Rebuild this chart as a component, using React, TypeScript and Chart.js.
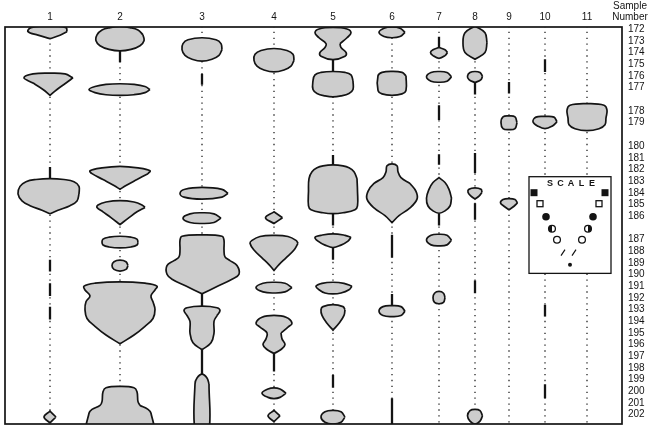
import React, { useEffect, useRef } from "react";
import { Chart, registerables } from "chart.js";

Chart.register(...registerables);

// ---------- data ----------
const sampleNumbers = [172, 173, 174, 175, 176, 177, 178, 179, 180, 181, 182, 183, 184, 185, 186, 187, 188, 189, 190, 191, 192, 193, 194, 195, 196, 197, 198, 199, 200, 201, 202];
const gapsAfter = [177, 179, 186];
const types = ["1", "2", "3", "4", "5", "6", "7", "8", "9", "10", "11"];
const typeCenters = [45, 115, 197, 269, 328, 387, 434, 470, 504, 540, 582];

// each shape: p = [row, halfWidth(right), halfWidth(left)?]; pt/pb = pointed top/bottom
type Blob = { p: number[][]; pt?: boolean; pb?: boolean };

const type1Shapes: Blob[] = [
  { p: [[-0.3, 0], [-0.15, 16, 19], [0.2, 17, 22], [0.5, 10, 12], [0.8, 0]], pb: true },
  { p: [[3.75, 0], [3.82, 15, 17], [4.15, 23, 26], [4.6, 16, 17], [5.15, 7], [5.65, 0]], pb: true },
  { p: [[12.78, 0], [12.86, 14], [13.05, 24], [13.45, 29, 30], [14.1, 29, 32], [14.7, 27, 28], [15.1, 20], [15.5, 8], [15.8, 0]], pb: true },
  { p: [[32.7, 0], [33.2, 6], [33.7, 0]], pt: true, pb: true },
];
const type1Bars = [[11.78, 12.78], [19.73, 20.74], [21.74, 22.83], [23.75, 24.84]];

const type2Shapes: Blob[] = [
  { p: [[-0.25, 0], [-0.15, 10], [0.05, 18], [0.47, 23], [0.97, 24], [1.4, 20], [1.72, 11], [1.85, 0]] },
  { p: [[4.66, 0], [4.72, 14], [4.9, 25], [5.16, 30, 31], [5.42, 25], [5.6, 14], [5.66, 0]] },
  { p: [[11.73, 0], [11.86, 18], [12.11, 30], [12.36, 28], [12.86, 17], [13.37, 6], [13.7, 0]], pb: true },
  { p: [[14.67, 0], [14.79, 14], [15.04, 22], [15.25, 25, 23], [15.63, 17], [16.13, 9], [16.72, 0]], pb: true },
  { p: [[17.72, 0], [17.8, 11], [17.97, 17], [18.22, 18], [18.47, 17], [18.64, 11], [18.72, 0]] },
  { p: [[19.77, 0], [19.9, 6], [20.23, 8], [20.56, 6], [20.7, 0]] },
  { p: [[21.62, 0], [21.74, 25], [21.99, 37, 36], [22.32, 35], [22.83, 31, 30], [23.33, 33, 34], [24.0, 35], [24.76, 33], [25.43, 25], [26.18, 14], [26.93, 0]], pb: true },
  { p: [[30.58, 0], [30.7, 14], [31.04, 17], [31.88, 18], [32.21, 20], [32.55, 28], [32.88, 31], [34.4, 32], [34.5, 0]] },
];
const type2Bars = [[1.85, 2.81]];

const type3Shapes: Blob[] = [
  { p: [[0.72, 0], [0.89, 14], [1.22, 19], [1.73, 20], [2.23, 17], [2.56, 10], [2.73, 0]] },
  { p: [[13.54, 0], [13.7, 20, 17], [14.04, 26, 22], [14.37, 20, 18], [14.54, 0]] },
  { p: [[15.71, 0], [15.8, 12], [16.17, 19], [16.54, 12], [16.63, 0]] },
  { p: [[17.6, 0], [17.72, 20], [18.06, 22], [18.9, 22], [19.48, 23], [19.81, 28], [20.23, 35], [20.98, 37, 35], [21.4, 30], [21.99, 16], [22.65, 0]], pb: true },
  { p: [[23.71, 0], [23.84, 15], [24.09, 18], [24.51, 15], [25.01, 12], [26.01, 12], [26.85, 9], [27.44, 0]], pb: true },
  { p: [[29.53, 0], [29.86, 5], [30.37, 7], [34.4, 7], [34.5, 0]] },
];
const type3Bars = [[3.82, 4.74], [22.65, 23.71], [27.44, 29.53]];

const type4Shapes: Blob[] = [
  { p: [[1.64, 0], [1.81, 13], [2.14, 19], [2.65, 20], [3.15, 17], [3.48, 10], [3.65, 0]] },
  { p: [[15.63, 0], [16.13, 8.5], [16.63, 0]], pt: true, pb: true },
  { p: [[17.65, 0], [17.74, 14], [18.07, 22], [18.32, 24], [18.9, 20], [19.57, 12], [20.15, 5], [20.65, 0]], pb: true },
  { p: [[21.66, 0], [21.75, 11], [22.12, 18], [22.49, 11], [22.58, 0]] },
  { p: [[24.5, 0], [24.66, 12], [25.17, 18], [25.5, 14], [26.0, 7], [26.51, 8], [27.0, 11], [27.42, 7], [27.76, 0]], pb: true },
  { p: [[30.7, 0], [30.8, 6], [31.16, 12], [31.52, 6], [31.62, 0]] },
  { p: [[32.63, 0], [33.1, 6], [33.6, 0]], pt: true, pb: true },
];
const type4Bars = [[27.76, 29.3]];

const type5Shapes: Blob[] = [
  { p: [[-0.16, 0], [-0.03, 14], [0.3, 18], [0.72, 14], [1.22, 7], [1.56, 8], [1.98, 13], [2.31, 12], [2.6, 0]] },
  { p: [[3.61, 0], [3.69, 12], [3.9, 18], [4.41, 20], [5.16, 20], [5.49, 16], [5.7, 8], [5.79, 0]] },
  { p: [[11.61, 0], [11.69, 10], [11.86, 16], [12.19, 21], [12.78, 24], [13.87, 24.5], [15.12, 24.5], [15.45, 22], [15.71, 10], [15.79, 0]] },
  { p: [[17.51, 0], [17.64, 12], [17.81, 18], [18.14, 15], [18.48, 8], [18.69, 0]] },
  { p: [[21.66, 0], [21.75, 11], [22.0, 19, 17], [22.3, 16, 14], [22.58, 8], [22.66, 0]] },
  { p: [[23.58, 0], [23.75, 10], [24.0, 12], [24.5, 11], [25.18, 6], [25.76, 0]], pb: true },
  { p: [[32.63, 0], [32.75, 8], [33.2, 12], [33.65, 8], [33.8, 0]] },
];
const type5Bars = [[2.6, 3.61], [10.77, 11.61], [15.79, 16.8], [18.69, 19.73], [29.6, 30.7]];

const type6Shapes: Blob[] = [
  { p: [[-0.2, 0], [-0.1, 8], [0.26, 13], [0.62, 8], [0.72, 0]] },
  { p: [[3.6, 0], [3.69, 10], [3.98, 14], [5.23, 14], [5.53, 10], [5.65, 0]] },
  { p: [[11.52, 0], [11.69, 5], [12.19, 6], [12.7, 9], [13.2, 18], [13.87, 24], [14.54, 25], [15.29, 18], [15.96, 7], [16.55, 0]], pb: true },
  { p: [[23.67, 0], [23.75, 9], [24.13, 13], [24.51, 9], [24.6, 0]] },
];
const type6Bars = [[17.6, 19.56], [22.66, 23.67], [31.6, 34]];

const type7Shapes: Blob[] = [
  { p: [[1.56, 0], [1.75, 6], [1.98, 8.5], [2.25, 6], [2.48, 0]], pt: true },
  { p: [[3.61, 0], [3.7, 8], [4.07, 12.5], [4.44, 8], [4.53, 0]] },
  { p: [[12.7, 0], [13.12, 6], [13.7, 10], [14.46, 12.5], [15.13, 11], [15.55, 6], [15.75, 0]], pt: true },
  { p: [[17.55, 0], [17.64, 8], [18.05, 12.5], [18.46, 8], [18.55, 0]] },
  { p: [[22.45, 0], [22.6, 4.5], [22.99, 6], [23.38, 4.5], [23.5, 0]] },
];
const type7Bars = [[0.64, 1.56], [6.5, 7.76], [10.7, 11.6], [15.75, 16.8]];

const type8Shapes: Blob[] = [
  { p: [[-0.28, 0], [0.3, 10], [1.14, 12], [1.98, 10], [2.56, 0]], pt: true, pb: true },
  { p: [[3.61, 0], [3.7, 5], [4.0, 7.5], [4.3, 6], [4.57, 0]], pb: true },
  { p: [[13.58, 0], [13.7, 6], [13.95, 7], [14.29, 4], [14.54, 0]], pb: true },
  { p: [[32.55, 0], [32.65, 5], [33.1, 7.5], [33.55, 5], [33.8, 0]] },
];
const type8Bars = [[4.57, 5.58], [10.6, 12.3], [14.9, 16.3], [21.5, 22.6]];

const type9Shapes: Blob[] = [
  { p: [[7.42, 0], [7.5, 6], [8.0, 8], [8.5, 6], [8.59, 0]] },
  { p: [[14.5, 0], [14.58, 6], [14.87, 8.5], [15.15, 5], [15.45, 0]], pb: true },
];
const type9Bars = [[4.5, 5.5]];

const type10Shapes: Blob[] = [
  { p: [[7.46, 0], [7.52, 9], [7.92, 12], [8.3, 7], [8.51, 0]] },
];
const type10Bars = [[2.56, 3.65], [23.58, 24.6], [30.4, 31.6]];

const type11Shapes: Blob[] = [
  { p: [[6.37, 0], [6.5, 17], [6.92, 20], [7.59, 19], [8.17, 18], [8.51, 12], [8.68, 0]] },
];
const type11Bars: number[][] = [];

const shapesByType = [type1Shapes, type2Shapes, type3Shapes, type4Shapes, type5Shapes, type6Shapes, type7Shapes, type8Shapes, type9Shapes, type10Shapes, type11Shapes];
const barsByType = [type1Bars, type2Bars, type3Bars, type4Bars, type5Bars, type6Bars, type7Bars, type8Bars, type9Bars, type10Bars, type11Bars];

// scale key box: [xLeft, rowTop, xRight, rowBottom]
const keyBox = [524, 12.62, 606, 20.9];

const sampleRows = sampleNumbers.map((s, i) => i + gapsAfter.filter((g) => g < s).length);

// ---------- helpers ----------
function outline(cx: number, b: Blob) {
  const p = b.p;
  const n = p.length;
  const R = (k: number) => ({ x: cx + p[k][1], y: p[k][0] });
  const L = (k: number) => ({ x: cx - (p[k][2] ?? p[k][1]), y: p[k][0] });
  const m = Math.max(1, Math.floor((n - 1) / 2));
  const pts: { x: number; y: number }[] = [];
  for (let k = m; k < n - 1; k++) pts.push(R(k));
  const bot = { x: cx, y: p[n - 1][0] };
  pts.push(bot);
  if (b.pb) pts.push({ ...bot });
  for (let k = n - 2; k >= 1; k--) pts.push(L(k));
  const top = { x: cx, y: p[0][0] };
  pts.push(top);
  if (b.pt) pts.push({ ...top });
  for (let k = 1; k <= m; k++) pts.push(R(k));
  return pts;
}

const INK = "#141414";
const FILL = "#cdcdcd";
const FONT = "'Liberation Sans', Arial, sans-serif";

const framePlugin = {
  id: "frameAndKey",
  afterDatasetsDraw(chart: any) {
    const { ctx, chartArea: a, scales } = chart;
    const xs = scales.x;
    const ys = scales.y;
    ctx.save();
    ctx.strokeStyle = INK;
    ctx.lineWidth = 1.7;
    ctx.strokeRect(a.left, a.top, a.right - a.left, a.bottom - a.top);

    // scale key
    const bx = xs.getPixelForValue(keyBox[0]);
    const by = ys.getPixelForValue(keyBox[1]);
    const bx2 = xs.getPixelForValue(keyBox[2]);
    const by2 = ys.getPixelForValue(keyBox[3]);
    ctx.fillStyle = "#fff";
    ctx.fillRect(bx, by, bx2 - bx, by2 - by);
    ctx.lineWidth = 1.3;
    ctx.strokeRect(bx, by, bx2 - bx, by2 - by);

    ctx.fillStyle = INK;
    ctx.font = `bold 9px ${FONT}`;
    ctx.textAlign = "center";
    ctx.textBaseline = "middle";
    "SCALE".split("").forEach((c, i) => ctx.fillText(c, bx + 21 + i * 10.5, by + 7));

    const sq = (x: number, y: number, filled: boolean) => {
      if (filled) ctx.fillRect(bx + x - 3.5, by + y - 3.5, 7, 7);
      else { ctx.lineWidth = 1.3; ctx.strokeRect(bx + x - 3, by + y - 3, 6, 6); }
    };
    const circ = (x: number, y: number, r: number, mode: string) => {
      ctx.beginPath();
      ctx.arc(bx + x, by + y, r, 0, Math.PI * 2);
      if (mode === "fill") ctx.fill();
      else {
        ctx.lineWidth = 1.3;
        ctx.stroke();
        if (mode === "halfL" || mode === "halfR") {
          ctx.beginPath();
          const s = mode === "halfL" ? Math.PI / 2 : -Math.PI / 2;
          ctx.arc(bx + x, by + y, r, s, s + Math.PI);
          ctx.closePath();
          ctx.fill();
        }
      }
    };
    sq(5, 16, true);
    sq(11, 27, false);
    circ(17, 40, 3.8, "fill");
    circ(23, 52, 3.4, "halfL");
    circ(28, 63, 3.4, "open");
    sq(76, 16, true);
    sq(70, 27, false);
    circ(64, 40, 3.8, "fill");
    circ(59, 52, 3.4, "halfR");
    circ(53, 63, 3.4, "open");
    ctx.lineWidth = 1.2;
    ctx.beginPath();
    ctx.moveTo(bx + 32, by + 79); ctx.lineTo(bx + 36, by + 73);
    ctx.moveTo(bx + 43, by + 79); ctx.lineTo(bx + 47, by + 73);
    ctx.stroke();
    circ(41, 88, 2, "fill");
    ctx.restore();
  },
  afterDraw(chart: any) {
    const { ctx } = chart;
    ctx.save();
    ctx.fillStyle = INK;
    ctx.font = `10px ${FONT}`;
    ctx.textAlign = "center";
    ctx.textBaseline = "middle";
    ctx.fillText("Sample", 630, 6);
    ctx.fillText("Number", 630, 17);
    ctx.restore();
  },
};

export default function App() {
  const ref = useRef<HTMLCanvasElement | null>(null);
  useEffect(() => {
    if (!ref.current) return;
    Chart.defaults.font.family = FONT;
    const datasets: any[] = [];
    typeCenters.forEach((cx) => {
      datasets.push({
        data: [{ x: cx, y: -0.3 }, { x: cx, y: 34 }],
        showLine: true,
        borderColor: "#222",
        borderWidth: 1.3,
        borderDash: [1.3, 4.6],
        pointRadius: 0,
        fill: false,
        order: 3,
      });
    });
    barsByType.forEach((bars, i) => {
      bars.forEach(([r0, r1]) => {
        datasets.push({
          data: [{ x: typeCenters[i], y: r0 }, { x: typeCenters[i], y: r1 }],
          showLine: true,
          borderColor: INK,
          borderWidth: 2.3,
          pointRadius: 0,
          fill: false,
          order: 2,
        });
      });
    });
    shapesByType.forEach((shapes, i) => {
      shapes.forEach((b) => {
        datasets.push({
          data: outline(typeCenters[i], b),
          showLine: true,
          borderColor: INK,
          borderWidth: 1.7,
          backgroundColor: FILL,
          fill: "shape",
          tension: 0.4,
          pointRadius: 0,
          order: 1,
        });
      });
    });

    const chart = new Chart(ref.current, {
      type: "scatter",
      data: { datasets },
      options: {
        animation: false,
        responsive: true,
        maintainAspectRatio: false,
        events: [],
        layout: { padding: { left: 5, right: 0, top: 0, bottom: 3 } },
        plugins: { legend: { display: false }, tooltip: { enabled: false } },
        scales: {
          x: {
            type: "linear",
            position: "top",
            min: 0,
            max: 617,
            afterBuildTicks: (s: any) => { s.ticks = typeCenters.map((v) => ({ value: v })); },
            afterFit: (s: any) => { s.height = 27; },
            grid: { display: false, drawTicks: false },
            border: { display: false },
            ticks: {
              autoSkip: false,
              maxRotation: 0,
              padding: 4,
              color: INK,
              font: { size: 10 },
              callback: (v: any) => { const k = typeCenters.indexOf(Number(v)); return k >= 0 ? types[k] : ""; },
            },
          },
          y: {
            type: "linear",
            position: "right",
            reverse: true,
            min: -0.2,
            max: 33.8,
            afterBuildTicks: (s: any) => { s.ticks = sampleRows.map((v) => ({ value: v })); },
            afterFit: (s: any) => { s.width = 28; },
            grid: { display: false, drawTicks: false },
            border: { display: false },
            ticks: {
              autoSkip: false,
              padding: 6,
              color: INK,
              font: { size: 10 },
              callback: (v: any) => { const k = sampleRows.indexOf(Number(v)); return k >= 0 ? String(sampleNumbers[k]) : ""; },
            },
          },
        },
      } as any,
      plugins: [framePlugin],
    });
    return () => chart.destroy();
  }, []);

  return (
    <div style={{ position: "fixed", left: 0, top: 0, width: 650, height: 436, background: "#fff" }}>
      <canvas ref={ref} />
    </div>
  );
}
